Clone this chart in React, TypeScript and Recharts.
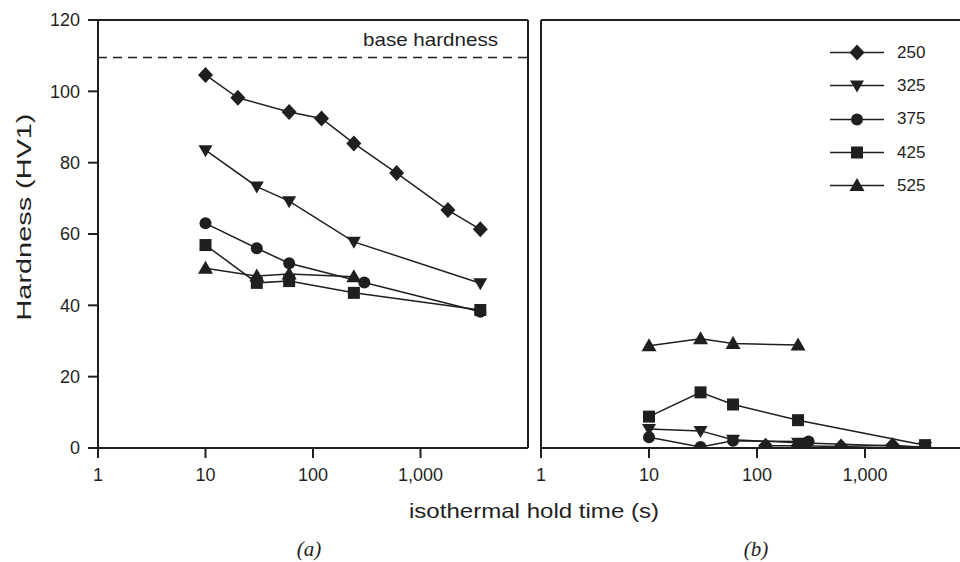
import { LineChart, Line, XAxis, YAxis, ReferenceLine } from 'recharts';

// (a) hardness vs hold time, per isothermal temperature
const times250a = [10, 20, 60, 120, 240, 600, 1800, 3600];
const hard250a = [104.6, 98.2, 94.2, 92.4, 85.4, 77.1, 66.7, 61.3];
const times325a = [10, 30, 60, 240, 3600];
const hard325a = [83.5, 73.3, 69.2, 57.8, 46.2];
const times375a = [10, 30, 60, 300, 3600];
const hard375a = [63.0, 56.0, 51.8, 46.4, 38.2];
const times425a = [10, 30, 60, 240, 3600];
const hard425a = [56.9, 46.3, 46.8, 43.5, 38.7];
const times525a = [10, 30, 60, 240];
const hard525a = [50.4, 48.2, 48.8, 48.0];

// (b)
const times250b = [120, 240, 600, 1800, 3600];
const hard250b = [0.6, 0.6, 0.4, 0.8, 0.0];
const times325b = [10, 30, 60, 240, 3600];
const hard325b = [5.3, 4.8, 2.3, 1.5, 0.3];
const times375b = [10, 30, 60, 300];
const hard375b = [3.0, 0.3, 2.0, 1.8];
const times425b = [10, 30, 60, 240, 3600];
const hard425b = [8.8, 15.6, 12.2, 7.8, 0.8];
const times525b = [10, 30, 60, 240];
const hard525b = [28.7, 30.6, 29.3, 28.9];

const seriesNames = ['250', '325', '375', '425', '525'];
const shapes = ['diamond', 'down', 'circle', 'square', 'up'];
const xTicks = [1, 10, 100, 1000];
const yTicks = [0, 20, 40, 60, 80, 100, 120];
const baseHardness = 109.5;

const INK = '#1f1f1f';
const FONT = '"Liberation Sans", Arial, sans-serif';
const SERIF = '"Liberation Serif", "Times New Roman", serif';

const toRows = (t: number[], h: number[]) => t.map((x, i) => ({ t: x, h: h[i] }));

const panelA = [
  toRows(times250a, hard250a),
  toRows(times325a, hard325a),
  toRows(times375a, hard375a),
  toRows(times425a, hard425a),
  toRows(times525a, hard525a),
];
const panelB = [
  toRows(times250b, hard250b),
  toRows(times325b, hard325b),
  toRows(times375b, hard375b),
  toRows(times425b, hard425b),
  toRows(times525b, hard525b),
];

function Marker({ cx, cy, kind }: { cx: number; cy: number; kind: string }) {
  if (cx == null || cy == null) return null;
  if (kind === 'circle') return <circle cx={cx} cy={cy} r={6} fill={INK} />;
  if (kind === 'square') return <rect x={cx - 6} y={cy - 6} width={12} height={12} fill={INK} />;
  let d = '';
  if (kind === 'diamond') d = `M${cx},${cy - 8}L${cx + 7.5},${cy}L${cx},${cy + 8}L${cx - 7.5},${cy}Z`;
  if (kind === 'down') d = `M${cx - 7},${cy - 5}L${cx + 7},${cy - 5}L${cx},${cy + 7}Z`;
  if (kind === 'up') d = `M${cx - 7.5},${cy + 5.5}L${cx + 7.5},${cy + 5.5}L${cx},${cy - 7.5}Z`;
  return <path d={d} fill={INK} />;
}

const fmt = (v: number) => v.toLocaleString('en-US');

function LegendBox() {
  return (
    <div style={{ position: 'absolute', left: 830, top: 36, fontFamily: FONT, fontSize: 17, color: INK }}>
      {seriesNames.map((name, i) => (
        <div key={name} style={{ display: 'flex', alignItems: 'center', height: 33.3 }}>
          <svg width={56} height={33}>
            <line x1={0} y1={16.5} x2={54} y2={16.5} stroke={INK} strokeWidth={1.5} />
            <Marker cx={27} cy={16.5} kind={shapes[i]} />
          </svg>
          <span style={{ marginLeft: 11 }}>{name}</span>
        </div>
      ))}
    </div>
  );
}

function BaseLabel(props: any) {
  const vb = props.viewBox || {};
  return (
    <text
      x={vb.x + vb.width - 30}
      y={vb.y - 11}
      textAnchor="end"
      fontFamily={FONT}
      fontSize={19}
      textLength={135}
      lengthAdjust="spacingAndGlyphs"
      fill={INK}
    >
      base hardness
    </text>
  );
}

function Panel({ series, left }: { series: { t: number; h: number }[][]; left: boolean }) {
  return (
    <LineChart
      width={left ? 540 : 470}
      height={500}
      margin={left ? { top: 20, right: 12, bottom: 22, left: 38 } : { top: 20, right: 17, bottom: 22, left: 21 }}
    >
      <XAxis
        dataKey="t"
        type="number"
        scale="log"
        domain={[1, 10000]}
        allowDataOverflow
        ticks={xTicks}
        tickFormatter={fmt}
        height={30}
        stroke={INK}
        strokeWidth={2}
        tickSize={10}
        tickMargin={10}
        tick={{ fill: INK, fontSize: 18, fontFamily: FONT }}
      />
      <YAxis
        type="number"
        domain={[0, 120]}
        allowDataOverflow
        ticks={yTicks}
        width={60}
        hide={!left}
        stroke={INK}
        strokeWidth={2}
        tickSize={10}
        tickMargin={8}
        tick={{ fill: INK, fontSize: 18, fontFamily: FONT }}
      />
      <ReferenceLine y={120} stroke={INK} strokeWidth={2} />
      {left && <ReferenceLine x={10000} stroke={INK} strokeWidth={2} />}
      {!left && <ReferenceLine x={1} stroke={INK} strokeWidth={2} />}
      {left && (
        <ReferenceLine
          y={baseHardness}
          stroke={INK}
          strokeWidth={1.5}
          strokeDasharray="9 6"
          label={<BaseLabel />}
        />
      )}
      {series.map((rows, i) => (
        <Line
          key={seriesNames[i]}
          name={seriesNames[i]}
          data={rows}
          dataKey="h"
          stroke={INK}
          strokeWidth={1.5}
          isAnimationActive={false}
          dot={(p: any) => <Marker key={`${seriesNames[i]}-${p.index}`} cx={p.cx} cy={p.cy} kind={shapes[i]} />}
          activeDot={false}
        />
      ))}
    </LineChart>
  );
}

export default function App() {
  return (
    <div
      style={{
        position: 'absolute',
        left: 0,
        top: 0,
        width: 960,
        height: 562,
        overflow: 'hidden',
        background: '#fff',
      }}
    >
      <div style={{ position: 'absolute', left: 0, top: 0 }}>
        <Panel series={panelA} left />
      </div>
      <div style={{ position: 'absolute', left: 520, top: 0 }}>
        <Panel series={panelB} left={false} />
      </div>
      <LegendBox />
      <svg width={960} height={562} style={{ position: 'absolute', left: 0, top: 0, pointerEvents: 'none' }}>
        <text
          x={0}
          y={0}
          transform="translate(31,217) rotate(-90)"
          textAnchor="middle"
          fontFamily={FONT}
          fontSize={21}
          textLength={207}
          lengthAdjust="spacingAndGlyphs"
          fill={INK}
        >
          Hardness (HV1)
        </text>
        <text
          x={534}
          y={518}
          textAnchor="middle"
          fontFamily={FONT}
          fontSize={21}
          textLength={250}
          lengthAdjust="spacingAndGlyphs"
          fill={INK}
        >
          isothermal hold time (s)
        </text>
        <text x={309} y={556} textAnchor="middle" fontFamily={SERIF} fontStyle="italic" fontSize={21} fill={INK}>
          (a)
        </text>
        <text x={756} y={556} textAnchor="middle" fontFamily={SERIF} fontStyle="italic" fontSize={21} fill={INK}>
          (b)
        </text>
      </svg>
    </div>
  );
}
